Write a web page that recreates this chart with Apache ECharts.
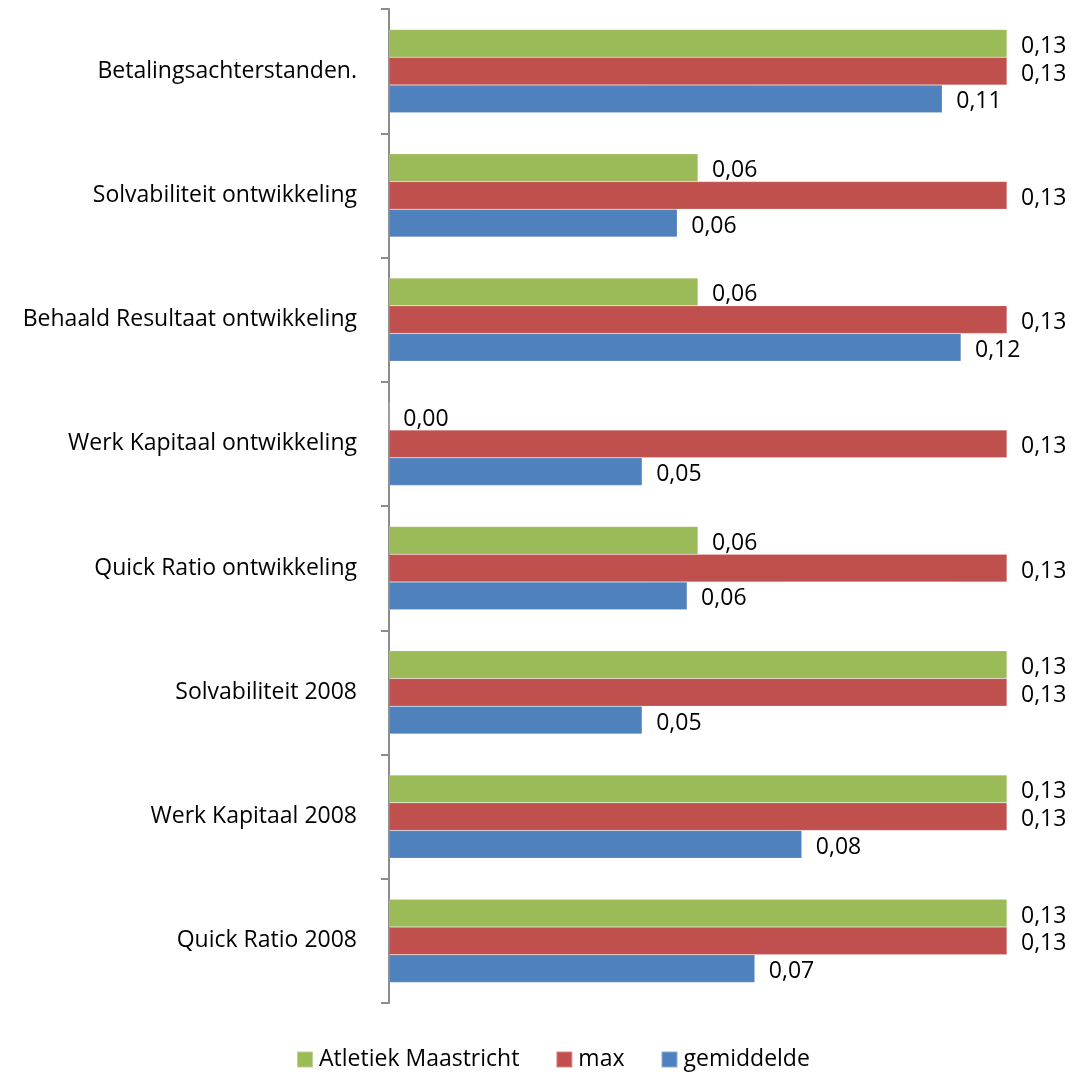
<!DOCTYPE html>
<html><head><meta charset="utf-8">
<script src="https://cdn.jsdelivr.net/npm/echarts@6/dist/echarts.min.js"></script>
<style>html,body{margin:0;padding:0;background:#fff}#c{width:1078px;height:1074px}</style>
</head><body><div id="c"></div>
<script>
const categories = ["Quick Ratio 2008","Werk Kapitaal 2008","Solvabiliteit 2008","Quick Ratio ontwikkeling","Werk Kapitaal ontwikkeling","Behaald Resultaat ontwikkeling","Solvabiliteit ontwikkeling","Betalingsachterstanden."];
const atletiek = [0.125,0.125,0.125,0.0625,0,0.0625,0.0625,0.125];
const maxVals = [0.125,0.125,0.125,0.125,0.125,0.125,0.125,0.125];
const gemiddelde = [0.074,0.0835,0.0512,0.0603,0.0512,0.1157,0.0583,0.1119];
const seriesNames = ["Atletiek Maastricht","max","gemiddelde"];
const colors = ["#9BBB59","#C0504D","#4F81BD"];
const FONT = "Open Sans";
const fmt = v => v.toFixed(2).replace('.', ',');
function mk(name, data, color){
  return {name, type:'bar', data, barGap:'0%', barCategoryGap:'33%',
    itemStyle:{color, borderColor:'rgba(255,255,255,0.35)', borderWidth:0.5},
    label:{show:true, position:'right', distance:14, offset:[0,3], color:'#000', fontFamily:FONT, fontSize:23,
      formatter:p=>fmt(p.value)}};
}
const chart = echarts.init(document.getElementById('c'));
chart.setOption({
  animation:false,
  textStyle:{fontFamily:FONT},
  grid:{left:389, top:9, right:71, bottom:71, containLabel:false},
  xAxis:{type:'value', min:0, max:0.125, show:false},
  yAxis:{type:'category', data:categories,
    axisLine:{show:true, lineStyle:{color:'#8c8c8c', width:2}},
    axisTick:{show:true, length:8, lineStyle:{color:'#8c8c8c', width:2}},
    axisLabel:{margin:32, color:'#000', fontFamily:FONT, fontSize:23},
    splitLine:{show:false}},
  legend:{top:1048, left:296, padding:0, itemWidth:16, itemHeight:16, itemGap:36,
    icon:'rect', textStyle:{fontFamily:FONT, fontSize:23, color:'#000', padding:[0,0,0,1]},
    data:seriesNames},
  series:[mk(seriesNames[0], atletiek, colors[0]), mk(seriesNames[1], maxVals, colors[1]), mk(seriesNames[2], gemiddelde, colors[2])]
});
</script></body></html>
